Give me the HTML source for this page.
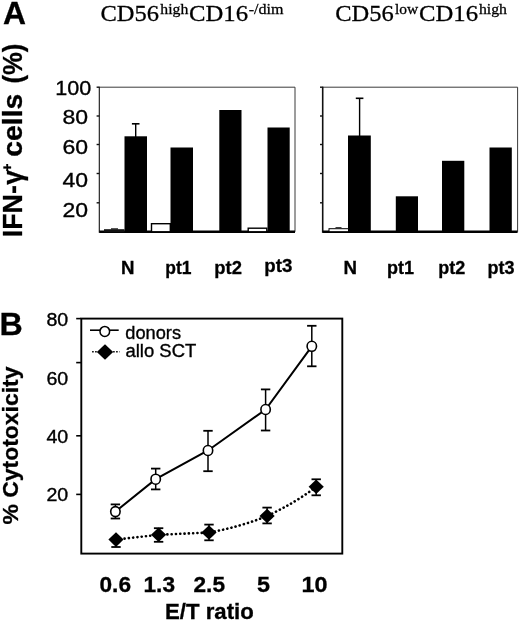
<!DOCTYPE html>
<html><head><meta charset="utf-8"><title>Figure</title>
<style>
html,body{margin:0;padding:0;background:#fff;}
body{width:520px;height:621px;overflow:hidden;}
svg{display:block;}
text{font-family:"Liberation Sans",sans-serif;fill:#000;}
.b{font-weight:bold;stroke:#000;stroke-width:0.3px;}
.r{stroke:#000;stroke-width:0.35px;}
.s{font-family:"Liberation Serif",serif;stroke:#000;stroke-width:0.3px;}
</style></head><body>
<svg width="520" height="621" viewBox="0 0 520 621">
<rect width="520" height="621" fill="#fff"/>

<text x="3.0" y="23.9" font-size="32.2" class="b" textLength="23.0" lengthAdjust="spacingAndGlyphs">A</text>
<text x="-0.4" y="334.9" font-size="32.2" class="b">B</text>
<text x="100.5" y="20.5" font-size="24" class="s" textLength="58.5" lengthAdjust="spacingAndGlyphs">CD56</text>
<text x="160.3" y="14.3" font-size="15.6" class="s" textLength="28" lengthAdjust="spacingAndGlyphs">high</text>
<text x="189.0" y="20.5" font-size="24" class="s" textLength="59" lengthAdjust="spacingAndGlyphs">CD16</text>
<text x="248.7" y="14.3" font-size="15.6" class="s" textLength="34.8" lengthAdjust="spacingAndGlyphs">-/dim</text>
<text x="335.2" y="20.5" font-size="24" class="s" textLength="58.5" lengthAdjust="spacingAndGlyphs">CD56</text>
<text x="395.0" y="14.3" font-size="15.6" class="s" textLength="23.2" lengthAdjust="spacingAndGlyphs">low</text>
<text x="419.0" y="20.5" font-size="24" class="s" textLength="59" lengthAdjust="spacingAndGlyphs">CD16</text>
<text x="479" y="14.3" font-size="15.6" class="s" textLength="28" lengthAdjust="spacingAndGlyphs">high</text>
<g transform="translate(21.8,236) rotate(-90)">
<text x="-1.2" y="0" font-size="27" class="b" textLength="52" lengthAdjust="spacingAndGlyphs">IFN-</text>
<text x="51.2" y="0" font-size="27" class="b" textLength="14.6" lengthAdjust="spacingAndGlyphs">γ</text>
<text x="64.6" y="-9.6" font-size="14" class="b" textLength="8" lengthAdjust="spacingAndGlyphs">+</text>
<text x="79.3" y="0" font-size="27" class="b" textLength="63" lengthAdjust="spacingAndGlyphs">cells</text>
<text x="152.4" y="0" font-size="27" class="b" textLength="40" lengthAdjust="spacingAndGlyphs">(%)</text>
</g>
<text x="55.3" y="94.8" font-size="21" class="r" textLength="36" lengthAdjust="spacingAndGlyphs">100</text>
<text x="62.4" y="124.3" font-size="21" class="r" textLength="25.6" lengthAdjust="spacingAndGlyphs">80</text>
<text x="62.4" y="153.8" font-size="21" class="r" textLength="25.6" lengthAdjust="spacingAndGlyphs">60</text>
<text x="62.4" y="186.5" font-size="21" class="r" textLength="25.6" lengthAdjust="spacingAndGlyphs">40</text>
<text x="62.4" y="216.6" font-size="21" class="r" textLength="25.6" lengthAdjust="spacingAndGlyphs">20</text>
<line x1="99.3" y1="87.2" x2="295.0" y2="87.2" stroke="#3a3a3a" stroke-width="1"/>
<line x1="295.0" y1="87.2" x2="295.0" y2="231.8" stroke="#3a3a3a" stroke-width="1"/>
<line x1="99.3" y1="86.7" x2="99.3" y2="232.8" stroke="#111" stroke-width="1.1"/>
<line x1="99.3" y1="231.8" x2="295.0" y2="231.8" stroke="#000" stroke-width="2.4"/>
<line x1="96.6" y1="87.2" x2="99.3" y2="87.2" stroke="#111" stroke-width="1.4"/>
<line x1="96.6" y1="116" x2="99.3" y2="116" stroke="#111" stroke-width="1.4"/>
<line x1="96.6" y1="144.5" x2="99.3" y2="144.5" stroke="#111" stroke-width="1.4"/>
<line x1="96.6" y1="173.5" x2="99.3" y2="173.5" stroke="#111" stroke-width="1.4"/>
<line x1="96.6" y1="202.8" x2="99.3" y2="202.8" stroke="#111" stroke-width="1.4"/>
<rect x="124.5" y="136.3" width="22.5" height="96.6" fill="#000"/>
<rect x="170.5" y="147.5" width="22.5" height="85.4" fill="#000"/>
<rect x="219.3" y="110" width="22.19999999999999" height="122.9" fill="#000"/>
<rect x="267.5" y="127.5" width="22.19999999999999" height="105.4" fill="#000"/>
<rect x="151.5" y="223.7" width="18.79999999999999" height="8.100000000000012" fill="#fff" stroke="#000" stroke-width="1.4"/>
<rect x="248.2" y="228.2" width="18.6" height="3.600000000000011" fill="#fff" stroke="#000" stroke-width="1.4"/>
<line x1="135.7" y1="123.8" x2="135.7" y2="137" stroke="#000" stroke-width="1.4"/>
<line x1="131.89999999999998" y1="123.8" x2="139.5" y2="123.8" stroke="#000" stroke-width="1.6"/>
<rect x="104" y="229.2" width="20.5" height="3" fill="#111"/>
<rect x="111" y="228.3" width="7" height="1.2" fill="#111"/>
<line x1="322.7" y1="87.2" x2="517.6" y2="87.2" stroke="#3a3a3a" stroke-width="1"/>
<line x1="517.6" y1="87.2" x2="517.6" y2="231.8" stroke="#3a3a3a" stroke-width="1"/>
<line x1="322.7" y1="86.7" x2="322.7" y2="232.8" stroke="#111" stroke-width="1.6"/>
<line x1="322.7" y1="231.8" x2="517.6" y2="231.8" stroke="#000" stroke-width="2.4"/>
<line x1="320.0" y1="87.2" x2="322.7" y2="87.2" stroke="#111" stroke-width="1.4"/>
<line x1="320.0" y1="116" x2="322.7" y2="116" stroke="#111" stroke-width="1.4"/>
<line x1="320.0" y1="144.5" x2="322.7" y2="144.5" stroke="#111" stroke-width="1.4"/>
<line x1="320.0" y1="173.5" x2="322.7" y2="173.5" stroke="#111" stroke-width="1.4"/>
<line x1="320.0" y1="202.8" x2="322.7" y2="202.8" stroke="#111" stroke-width="1.4"/>
<rect x="348" y="135.5" width="22.80000000000001" height="97.4" fill="#000"/>
<rect x="395.8" y="196.3" width="22.19999999999999" height="36.599999999999994" fill="#000"/>
<rect x="442" y="160.8" width="22.30000000000001" height="72.1" fill="#000"/>
<rect x="489.5" y="147.5" width="22.30000000000001" height="85.4" fill="#000"/>
<line x1="359.6" y1="98.3" x2="359.6" y2="136" stroke="#000" stroke-width="1.4"/>
<line x1="355.8" y1="98.3" x2="363.40000000000003" y2="98.3" stroke="#000" stroke-width="1.6"/>
<rect x="329" y="228.7" width="19.5" height="3" fill="#fff" stroke="#000" stroke-width="1"/>
<line x1="335.5" y1="227.6" x2="341.5" y2="227.6" stroke="#111" stroke-width="0.9"/>
<text x="121" y="274.0" font-size="18" class="b" textLength="13.5" lengthAdjust="spacingAndGlyphs">N</text>
<text x="165.3" y="274.0" font-size="18" class="b" textLength="26.2" lengthAdjust="spacingAndGlyphs">pt1</text>
<text x="214.3" y="274.09999999999997" font-size="18" class="b" textLength="27.6" lengthAdjust="spacingAndGlyphs">pt2</text>
<text x="264.3" y="272.3" font-size="18" class="b" textLength="28" lengthAdjust="spacingAndGlyphs">pt3</text>
<text x="343.5" y="274.0" font-size="18" class="b" textLength="13.5" lengthAdjust="spacingAndGlyphs">N</text>
<text x="387" y="274.0" font-size="18" class="b" textLength="27" lengthAdjust="spacingAndGlyphs">pt1</text>
<text x="438.2" y="274.0" font-size="18" class="b" textLength="27" lengthAdjust="spacingAndGlyphs">pt2</text>
<text x="487.5" y="274.0" font-size="18" class="b" textLength="27" lengthAdjust="spacingAndGlyphs">pt3</text>
<rect x="81.3" y="318.6" width="261.0" height="235.0" fill="none" stroke="#000" stroke-width="1.9"/>
<line x1="76.2" y1="318.6" x2="81" y2="318.6" stroke="#000" stroke-width="1.6"/>
<line x1="76.2" y1="362.6" x2="81" y2="362.6" stroke="#000" stroke-width="1.6"/>
<line x1="76.2" y1="435.8" x2="81" y2="435.8" stroke="#000" stroke-width="1.6"/>
<line x1="76.2" y1="494.4" x2="81" y2="494.4" stroke="#000" stroke-width="1.6"/>
<text x="46.4" y="325.6" font-size="18" class="r" textLength="21.8" lengthAdjust="spacingAndGlyphs">80</text>
<text x="46.4" y="384.5" font-size="18" class="r" textLength="21.8" lengthAdjust="spacingAndGlyphs">60</text>
<text x="46.4" y="443.3" font-size="18" class="r" textLength="21.8" lengthAdjust="spacingAndGlyphs">40</text>
<text x="46.4" y="501.3" font-size="18" class="r" textLength="21.8" lengthAdjust="spacingAndGlyphs">20</text>
<line x1="90" y1="330.2" x2="118.7" y2="330.2" stroke="#000" stroke-width="1.6"/>
<ellipse cx="104.8" cy="331.4" rx="4.8" ry="5.0" fill="#fff" stroke="#000" stroke-width="1.5"/>
<line x1="92" y1="351.8" x2="119.5" y2="351.8" stroke="#222" stroke-width="1.6" stroke-dasharray="1.8 1.2"/>
<polygon points="96.8,352 105,344.2 113.2,352 105,359.8" fill="#000"/>
<text x="125.3" y="338.6" font-size="18" class="r" textLength="55.7" lengthAdjust="spacingAndGlyphs">donors</text>
<text x="125.5" y="356.8" font-size="18" class="r" textLength="70.8" lengthAdjust="spacingAndGlyphs">allo SCT</text>
<polyline points="115.4,511.6 155.7,479.2 208,450.5 265.6,409.5 311.8,346.3" fill="none" stroke="#000" stroke-width="2"/>
<line x1="115.4" y1="504.4" x2="115.4" y2="518.5" stroke="#000" stroke-width="1.5"/>
<line x1="110.7" y1="504.4" x2="120.10000000000001" y2="504.4" stroke="#000" stroke-width="1.8"/>
<line x1="110.7" y1="518.5" x2="120.10000000000001" y2="518.5" stroke="#000" stroke-width="1.8"/>
<ellipse cx="115.4" cy="511.6" rx="4.7" ry="5.0" fill="#fff" stroke="#000" stroke-width="1.6"/>
<line x1="155.7" y1="468.6" x2="155.7" y2="489.4" stroke="#000" stroke-width="1.5"/>
<line x1="151.0" y1="468.6" x2="160.39999999999998" y2="468.6" stroke="#000" stroke-width="1.8"/>
<line x1="151.0" y1="489.4" x2="160.39999999999998" y2="489.4" stroke="#000" stroke-width="1.8"/>
<ellipse cx="155.7" cy="479.2" rx="4.7" ry="5.0" fill="#fff" stroke="#000" stroke-width="1.6"/>
<line x1="208" y1="430.8" x2="208" y2="471.2" stroke="#000" stroke-width="1.5"/>
<line x1="203.3" y1="430.8" x2="212.7" y2="430.8" stroke="#000" stroke-width="1.8"/>
<line x1="203.3" y1="471.2" x2="212.7" y2="471.2" stroke="#000" stroke-width="1.8"/>
<ellipse cx="208" cy="450.5" rx="4.7" ry="5.0" fill="#fff" stroke="#000" stroke-width="1.6"/>
<line x1="265.6" y1="389.4" x2="265.6" y2="430.5" stroke="#000" stroke-width="1.5"/>
<line x1="260.90000000000003" y1="389.4" x2="270.3" y2="389.4" stroke="#000" stroke-width="1.8"/>
<line x1="260.90000000000003" y1="430.5" x2="270.3" y2="430.5" stroke="#000" stroke-width="1.8"/>
<ellipse cx="265.6" cy="409.5" rx="4.7" ry="5.0" fill="#fff" stroke="#000" stroke-width="1.6"/>
<line x1="311.8" y1="325.8" x2="311.8" y2="366.3" stroke="#000" stroke-width="1.5"/>
<line x1="307.1" y1="325.8" x2="316.5" y2="325.8" stroke="#000" stroke-width="1.8"/>
<line x1="307.1" y1="366.3" x2="316.5" y2="366.3" stroke="#000" stroke-width="1.8"/>
<ellipse cx="311.8" cy="346.3" rx="4.7" ry="5.0" fill="#fff" stroke="#000" stroke-width="1.6"/>
<path d="M116.0,539.6 L158.6,534.8 L209.0,532.5 Q240,527 267.1,516.0 Q295,503 316.2,486.8" fill="none" stroke="#000" stroke-width="2.6" stroke-linecap="round" stroke-dasharray="0.1 4.2"/>
<line x1="116.0" y1="534" x2="116.0" y2="547" stroke="#000" stroke-width="1.5"/>
<line x1="111.3" y1="547" x2="120.7" y2="547" stroke="#000" stroke-width="1.8"/>
<polygon points="108.4,539.6 116.0,532.3000000000001 123.6,539.6 116.0,546.9" fill="#000"/>
<line x1="158.6" y1="528.2" x2="158.6" y2="541.8" stroke="#000" stroke-width="1.5"/>
<line x1="153.9" y1="528.2" x2="163.29999999999998" y2="528.2" stroke="#000" stroke-width="1.8"/>
<line x1="153.9" y1="541.8" x2="163.29999999999998" y2="541.8" stroke="#000" stroke-width="1.8"/>
<polygon points="151.0,534.8 158.6,527.5 166.2,534.8 158.6,542.0999999999999" fill="#000"/>
<line x1="209.0" y1="524.6" x2="209.0" y2="540.3" stroke="#000" stroke-width="1.5"/>
<line x1="204.3" y1="524.6" x2="213.7" y2="524.6" stroke="#000" stroke-width="1.8"/>
<line x1="204.3" y1="540.3" x2="213.7" y2="540.3" stroke="#000" stroke-width="1.8"/>
<polygon points="201.4,532.5 209.0,525.2 216.6,532.5 209.0,539.8" fill="#000"/>
<line x1="267.1" y1="507.6" x2="267.1" y2="523.4" stroke="#000" stroke-width="1.5"/>
<line x1="262.40000000000003" y1="507.6" x2="271.8" y2="507.6" stroke="#000" stroke-width="1.8"/>
<line x1="262.40000000000003" y1="523.4" x2="271.8" y2="523.4" stroke="#000" stroke-width="1.8"/>
<polygon points="259.5,516.0 267.1,508.7 274.70000000000005,516.0 267.1,523.3" fill="#000"/>
<line x1="316.2" y1="479.3" x2="316.2" y2="495.3" stroke="#000" stroke-width="1.5"/>
<line x1="311.5" y1="479.3" x2="320.9" y2="479.3" stroke="#000" stroke-width="1.8"/>
<line x1="311.5" y1="495.3" x2="320.9" y2="495.3" stroke="#000" stroke-width="1.8"/>
<polygon points="308.59999999999997,486.8 316.2,479.5 323.8,486.8 316.2,494.1" fill="#000"/>
<text x="99.5" y="591.8" font-size="21.3" class="b" textLength="31.5" lengthAdjust="spacingAndGlyphs">0.6</text>
<text x="143.5" y="591.8" font-size="21.3" class="b" textLength="31.5" lengthAdjust="spacingAndGlyphs">1.3</text>
<text x="193.5" y="591.8" font-size="21.3" class="b" textLength="31.5" lengthAdjust="spacingAndGlyphs">2.5</text>
<text x="257" y="591.8" font-size="21.3" class="b" textLength="13" lengthAdjust="spacingAndGlyphs">5</text>
<text x="301.5" y="591.8" font-size="21.3" class="b" textLength="26" lengthAdjust="spacingAndGlyphs">10</text>
<text x="165" y="619.3" font-size="21.3" class="b" textLength="88.8" lengthAdjust="spacingAndGlyphs">E/T ratio</text>
<g transform="translate(17.7,524.5) rotate(-90)">
<text x="0" y="0" font-size="22.8" class="b" textLength="158" lengthAdjust="spacingAndGlyphs">% Cytotoxicity</text>
</g>
</svg></body></html>
